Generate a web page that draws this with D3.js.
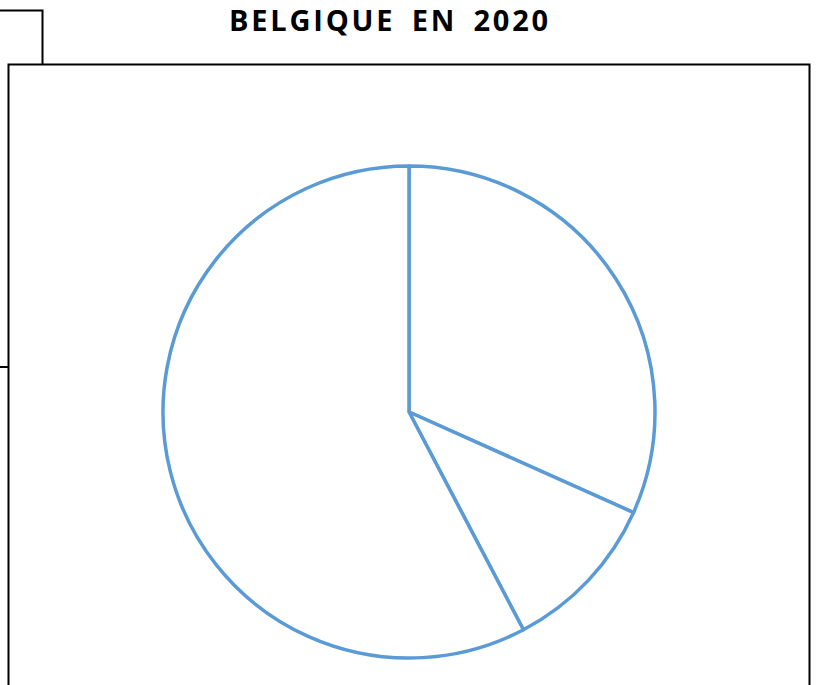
<!DOCTYPE html>
<html>
<head>
<meta charset="utf-8">
<script src="https://cdn.jsdelivr.net/npm/d3@7"></script>
<style>
  body { margin: 0; background: #fff; }
</style>
</head>
<body>
<div id="viz"></div>
<script>
const title = "BELGIQUE EN 2020";
const categories = ["Part 1", "Part 2", "Part 3"];
const values = [31.7, 10.6, 57.7];

const width = 816, height = 685;

const svg = d3.select("#viz")
    .append("svg")
    .attr("width", width)
    .attr("height", height);

// frames
svg.append("path")
    .attr("d", "M0,10.5 H42.5 V64")
    .attr("fill", "none")
    .attr("stroke", "#000")
    .attr("stroke-width", 2);
svg.append("line")
    .attr("x1", 0).attr("x2", 8)
    .attr("y1", 367).attr("y2", 367)
    .attr("stroke", "#000")
    .attr("stroke-width", 2);
svg.append("rect")
    .attr("x", 8.5).attr("y", 64.5)
    .attr("width", 801).attr("height", 640)
    .attr("fill", "none")
    .attr("stroke", "#000")
    .attr("stroke-width", 2);

svg.append("text")
    .attr("x", 390)
    .attr("y", 31)
    .attr("text-anchor", "middle")
    .attr("font-family", "'Open Sans', 'Noto Sans', sans-serif")
    .attr("font-weight", "bold")
    .attr("font-size", 29)
    .attr("letter-spacing", 2.8)
    .attr("word-spacing", 6)
    .text(title);

const cx = 409, cy = 412, r = 246;

const pie = d3.pie().sort(null).value(d => d.v);
const arc = d3.arc().innerRadius(0).outerRadius(r);
const data = categories.map((c, i) => ({ c, v: values[i] }));

svg.append("g")
    .attr("transform", `translate(${cx},${cy})`)
    .selectAll("path")
    .data(pie(data))
    .enter()
    .append("path")
    .attr("d", arc)
    .attr("fill", "#fff")
    .attr("stroke", "#5b9bd5")
    .attr("stroke-width", 3.5)
    .attr("stroke-linejoin", "round");
</script>
</body>
</html>
